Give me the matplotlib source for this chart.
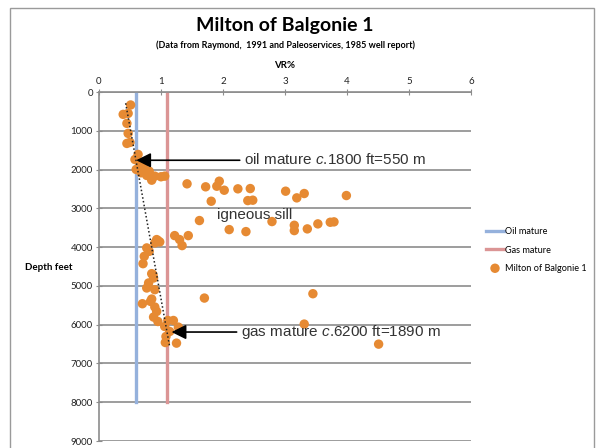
import matplotlib
matplotlib.use("Agg")
import matplotlib.pyplot as plt
from matplotlib.patches import Rectangle

plt.rcParams["mathtext.fontset"] = "custom"
plt.rcParams["mathtext.it"] = "Liberation Sans:italic"
plt.rcParams["mathtext.rm"] = "Liberation Sans"

# Vitrinite reflectance (VR%) vs depth (feet)
vr = [0.51, 0.39, 0.47, 0.45, 0.47, 0.45, 0.50,
      0.63, 0.58, 0.66, 0.60, 0.68, 0.74, 0.81, 0.77, 0.90, 1.00, 1.06, 0.85, 0.71,
      1.42, 1.72, 1.94, 1.90, 2.02, 2.24, 2.44, 1.81, 2.40, 2.48, 3.01, 3.31, 3.19, 3.99,
      1.62, 2.79, 2.10, 2.37, 3.15, 3.15, 3.36, 3.53, 3.73, 3.79,
      1.22, 1.30, 1.44, 1.34,
      0.95, 0.90, 0.77, 0.81, 0.73, 0.71, 0.85, 0.88, 0.80, 0.77, 0.90, 0.85, 0.70,
      0.90, 0.93, 0.88, 0.83, 0.95, 1.11, 1.20, 1.06, 1.14, 1.28, 1.08, 1.07, 1.25,
      0.93, 0.98, 0.87,
      3.45, 3.31, 4.51, 1.70]
depth = [335, 577, 551, 809, 1067, 1326, 1300,
         1610, 1740, 1868, 1997, 2083, 1997, 2041, 2152, 2170, 2186, 2170, 2274, 1900,
         2368, 2445, 2300, 2430, 2533, 2497, 2490, 2817, 2800, 2790, 2558, 2618, 2730, 2670,
         3315, 3341, 3548, 3600, 3437, 3574, 3530, 3401, 3359, 3349,
         3703, 3806, 3703, 3961,
         3832, 3892, 4021, 4108, 4238, 4427, 4685, 4796, 4925, 5054, 5098, 5339, 5460,
         5545, 5659, 5804, 5400, 5918, 5892, 5892, 6047, 6176, 6063, 6305, 6460, 6476,
         3806, 3866, 4711,
         5202, 5985, 6502, 5314]

oil_vr = 0.6
gas_vr = 1.1
line_depth = [0, 8000]

trend_vr = [0.43, 1.14]
trend_depth = [290, 6570]

x_ticks = [0, 1, 2, 3, 4, 5, 6]
y_ticks = [0, 1000, 2000, 3000, 4000, 5000, 6000, 7000, 8000, 9000]

oil_arrow = (0.60, 1760)
oil_text = (2.34, 1740)
gas_arrow = (1.17, 6190)
gas_text = (2.29, 6190)
sill_text = (1.91, 3160)

fig = plt.figure(figsize=(6.0, 4.48), dpi=100)
ax = fig.add_axes([99 / 600, 1 - 441 / 448, 372 / 600, 349 / 448])

grid_c = "#8c8c8c"
ax.set_xlim(0, 6)
ax.set_ylim(9000, 0)
ax.set_xticks(x_ticks)
ax.set_yticks(y_ticks)
ax.xaxis.tick_top()
ax.xaxis.set_label_position("top")
ax.yaxis.grid(True, color=grid_c, lw=1.2)
ax.set_axisbelow(True)
for s in ["right", "bottom"]:
    ax.spines[s].set_visible(False)
for s in ["left", "top"]:
    ax.spines[s].set_color(grid_c)
    ax.spines[s].set_linewidth(1.2)
ax.tick_params(axis="both", direction="inout", length=5, color=grid_c,
               labelsize=7, labelcolor="#222222", pad=2)
for lab in ax.get_xticklabels() + ax.get_yticklabels():
    lab.set_family("Lato")

ax.plot([oil_vr, oil_vr], line_depth, color="#95b1dc", lw=2.4, label="Oil mature", zorder=2)
ax.plot([gas_vr, gas_vr], line_depth, color="#db9595", lw=2.4, label="Gas mature", zorder=2)
ax.scatter(vr, depth, s=46, color="#e68a33", edgecolors="none",
           label="Milton of Balgonie 1", zorder=3)
ax.plot(trend_vr, trend_depth, color="#222222", lw=1.1, ls=(0, (1, 1.5)), zorder=4)

arrow_kw = dict(arrowstyle="-|>", color="black", lw=1.2, mutation_scale=22,
                shrinkA=0, shrinkB=0)
ax.annotate("", xy=oil_arrow, xytext=(oil_text[0] - 0.07, oil_arrow[1]),
            arrowprops=arrow_kw, zorder=5)
ax.annotate("", xy=gas_arrow, xytext=(gas_text[0] - 0.07, gas_arrow[1]),
            arrowprops=arrow_kw, zorder=5)
ax.text(*oil_text, r"oil mature $\mathit{c}$.1800 ft=550 m", fontsize=11,
        family="Liberation Sans", color="#333333", va="center", ha="left", zorder=5)
ax.text(*gas_text, r"gas mature $\mathit{c}$.6200 ft=1890 m", fontsize=11,
        family="Liberation Sans", color="#333333", va="center", ha="left", zorder=5)
ax.text(*sill_text, "igneous sill", fontsize=11, family="Liberation Sans",
        color="#333333", va="center", ha="left", zorder=5)

ax.set_xlabel("VR%", fontsize=7, fontweight="bold", family="Lato", labelpad=6)
fig.text(25 / 600, 1 - 268 / 448, "Depth feet", fontsize=7, fontweight="bold",
         family="Lato", va="center", ha="left")

fig.text(285 / 600, 1 - 26 / 448, "Milton of Balgonie 1", fontsize=14,
         fontweight="bold", family="Lato", ha="center", va="center")
fig.text(285 / 600, 1 - 45 / 448,
         "(Data from Raymond,  1991 and Paleoservices, 1985 well report)",
         fontsize=6.5, fontweight="bold", family="Lato", ha="center", va="center")

leg = ax.legend(loc="center left", bbox_to_anchor=(484 / 600, 1 - 250 / 448),
                bbox_transform=fig.transFigure, frameon=False,
                prop={"family": "Lato", "size": 6.6}, handlelength=2.0,
                handletextpad=0.05, labelspacing=1.0, borderaxespad=0,
                borderpad=0.2)

fig.add_artist(Rectangle((10 / 600, -0.05), 584 / 600, 1.05 - 8 / 448,
                         transform=fig.transFigure, fill=False,
                         edgecolor="#9a9a9a", lw=1.0))

fig.savefig("out.png", dpi=100)
